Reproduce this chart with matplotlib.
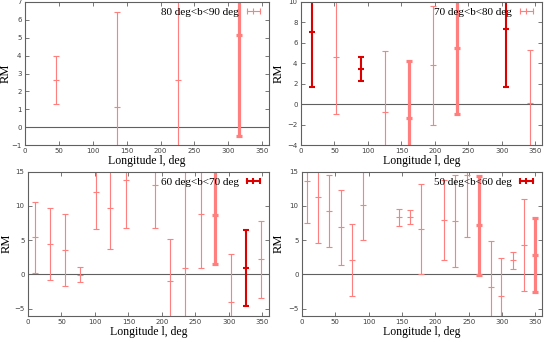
import numpy as np
import matplotlib.pyplot as plt
from matplotlib.lines import Line2D

plt.rcParams['font.family'] = ['DejaVu Sans']

# RM vs galactic longitude, four latitude bins
labels = ['80 deg<b<90 deg', '70 deg<b<80 deg', '60 deg<b<70 deg', '50 deg<b<60 deg']

lon1 = [45, 135, 225, 315]
rm1 = [2.65, 1.15, 2.65, 5.15]
err1 = [1.35, 5.3, 6.0, 5.65]

lon2 = [17, 53, 89, 125, 162, 197, 233, 306, 342]
rm2 = [7.1, 4.6, 3.45, -0.8, -1.4, 3.8, 5.5, 7.35, 0.15]
err2 = [5.4, 5.55, 1.17, 6.0, 5.65, 5.8, 6.5, 5.65, 5.15]

lon3 = [10, 33, 55, 78, 101, 123, 146, 190, 212, 235, 258, 280, 303, 326, 348]
rm3 = [5.4, 4.4, 3.5, -0.05, 12.0, 9.65, 13.7, 13.1, -1.0, 1.0, 8.8, 8.6, -4.1, 0.9, 2.2]
err3 = [5.2, 5.25, 5.25, 1.1, 5.45, 5.95, 7.0, 6.4, 6.2, 15.0, 7.8, 7.15, 7.0, 5.55, 5.65]

lon4 = [7, 24, 41, 59, 75, 92, 145, 162, 179, 213, 230, 248, 265, 283, 299, 317, 333, 350]
rm4 = [13.6, 11.25, 9.2, 6.85, 2.05, 10.1, 8.33, 8.35, 6.6, 7.9, 7.75, 14.45, 7.15, -1.85, -3.1, 2.05, 4.25, 2.8]
err4 = [6.15, 6.7, 5.25, 5.45, 5.25, 5.1, 1.25, 1.05, 6.6, 5.8, 6.7, 9.0, 7.25, 6.65, 5.45, 1.2, 6.7, 5.4]

# points drawn thicker / in dark red (overlapping sources in the original)
thick = [[315], [162, 233], [280], [265, 350]]
dark = [[], [17, 89, 306], [326], []]

ylims = [(-1, 7), (-4, 10), (-6, 15), (-6, 15)]
yticks = [np.arange(-1, 8, 1), np.arange(-4, 11, 2), np.arange(-5, 16, 5), np.arange(-5, 16, 5)]

LIGHT = '#ff7f7f'
DARK = '#dd0000'
GRAY = '#606060'
serif = 'Liberation Serif'

W, H = 545, 342
boxes = [(25, 2, 269, 145), (301, 2, 542, 145), (28, 171.5, 269, 315.5), (302, 171.5, 542, 315.5)]
rm_x = [-0.078, -0.092, -0.087, -0.096]
leg_dark = [False, False, True, True]

fig = plt.figure(figsize=(W / 100, H / 100), dpi=100)

data = [(lon1, rm1, err1), (lon2, rm2, err2), (lon3, rm3, err3), (lon4, rm4, err4)]

for k, (lon, rm, err) in enumerate(data):
    l, t, r, b = boxes[k]
    ax = fig.add_axes([l / W, 1 - b / H, (r - l) / W, (b - t) / H])
    lon = np.array(lon)
    rm = np.array(rm)
    err = np.array(err)

    is_thick = np.isin(lon, thick[k])
    is_dark = np.isin(lon, dark[k])
    groups = [(~is_thick & ~is_dark, LIGHT, 0.8),
              (is_thick, LIGHT, 2.3),
              (is_dark, DARK, 1.5)]
    for mask, c, lw in groups:
        if mask.any():
            ax.errorbar(lon[mask], rm[mask], yerr=err[mask], fmt='_', ms=4,
                        mew=lw, color=c, ecolor=c, elinewidth=lw,
                        capsize=2, capthick=lw)

    ax.axhline(0, color=GRAY, lw=0.8, zorder=0)
    ax.set_xlim(0, 360)
    ax.set_ylim(*ylims[k])
    ax.set_xticks(np.arange(0, 351, 50))
    ax.set_yticks(yticks[k])
    ax.tick_params(direction='in', top=True, right=True, length=3, width=0.6,
                   color=GRAY, labelsize=5, labelcolor='#404040', pad=2.5)
    for s in ax.spines.values():
        s.set_color(GRAY)
        s.set_linewidth(0.8)

    ax.set_ylabel('RM', family=serif, fontsize=9)
    ax.yaxis.set_label_coords(rm_x[k], 0.5)
    ax.yaxis.label.set_va('center')
    ax.set_xlabel('Longitude l, deg', family=serif, fontsize=8.5)
    ax.xaxis.set_label_coords(0.5, -0.112)
    ax.xaxis.label.set_va('center')

    if leg_dark[k]:
        hc, hlw = DARK, 1.5
    else:
        hc, hlw = LIGHT, 0.8
    h = Line2D([], [], color=hc, lw=hlw, marker='|', ms=4, mew=hlw)
    ax.legend([h], [labels[k]], loc='upper right', numpoints=3, frameon=False,
              markerfirst=False, prop={'family': serif, 'size': 8},
              handlelength=1.8, handletextpad=0.4, borderaxespad=0.1)

fig.savefig('out.png', dpi=100)
